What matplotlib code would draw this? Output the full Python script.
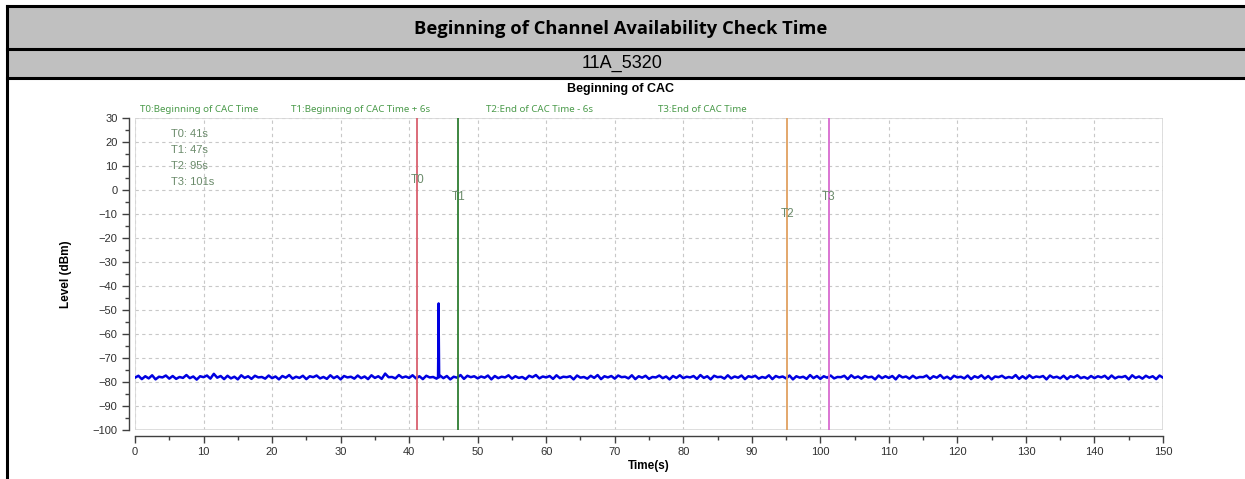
import numpy as np
import matplotlib
matplotlib.use("Agg")
import matplotlib.pyplot as plt
from matplotlib.lines import Line2D
from matplotlib.patches import Rectangle
from matplotlib.ticker import MultipleLocator

# Header texts
TITLE = "Beginning of Channel Availability Check Time"
SUBTITLE = "11A_5320"
PLOT_TITLE = "Beginning of CAC"

# Marker definitions (time in s)
marker_names = ["T0", "T1", "T2", "T3"]
marker_times = [41, 47, 95, 101]
marker_label_y = [4, -3, -10, -3]
marker_colors = ["#d9606e", "#2e7d32", "#e0a060", "#d86ad0"]
marker_desc = ["T0:Beginning of CAC Time", "T1:Beginning of CAC Time + 6s",
               "T2:End of CAC Time - 6s", "T3:End of CAC Time"]
marker_desc_x = [0.7, 22.7, 51.2, 76.3]

# Level trace (dBm), sampled every 0.5 s from 0 to 150 s
t_step = 0.5
level = [
    -78.2, -77.4, -78.8, -77.6, -78.5, -77.2, -78.9, -77.8, -78.1, -77.3, -78.6, -77.5, -78.7, -77.9, -78.3, -77.1, -78.4, -77.7, -79.0, -77.6,
    -78.0, -77.3, -78.6, -76.6, -78.2, -77.5, -78.8, -77.4, -78.5, -77.8, -78.9, -77.2, -78.3, -77.6, -78.7, -77.4, -78.1, -77.9, -78.6, -77.3,
    -78.4, -77.7, -78.9, -77.5, -78.2, -77.1, -78.6, -77.8, -78.3, -77.4, -78.8, -77.6, -78.0, -77.3, -78.5, -77.9, -78.7, -77.2, -78.4, -77.6,
    -78.9, -77.5, -78.1, -77.8, -78.6, -77.3, -78.4, -77.7, -78.8, -77.2, -78.3, -77.6, -78.7, -76.5, -78.0, -77.9, -78.5, -77.1, -78.2, -77.7,
    -78.3, -77.2, -78.5, -77.6, -78.8, -77.4, -78.1, -77.9, -78.6, -77.3, -78.4, -77.5, -78.9, -77.8, -78.2, -77.1, -78.7, -77.4, -78.0, -77.6,
    -78.5, -77.7, -78.2, -77.3, -78.9, -77.5, -78.4, -77.8, -78.1, -77.2, -78.6, -77.6, -78.3, -77.9, -78.8, -77.4, -78.0, -77.1, -78.5, -77.7,
    -78.1, -77.5, -78.7, -77.2, -78.4, -77.8, -78.0, -77.6, -78.9, -77.3, -78.2, -77.9, -78.6, -77.4, -78.3, -77.1, -78.8, -77.6, -78.1, -77.5,
    -78.6, -77.3, -78.0, -77.8, -78.5, -77.2, -78.8, -77.6, -78.2, -77.4, -78.7, -77.9, -78.1, -77.3, -78.4, -77.7, -78.9, -77.5, -78.3, -77.2,
    -78.4, -77.8, -78.1, -77.5, -78.7, -77.1, -78.3, -77.6, -78.9, -77.4, -78.0, -77.8, -78.6, -77.2, -78.5, -77.7, -78.2, -77.3, -78.8, -77.6,
    -78.0, -77.4, -78.6, -77.9, -78.3, -77.2, -78.8, -77.5, -78.1, -77.7, -78.5, -77.3, -78.9, -77.6, -78.2, -77.8, -78.7, -77.1, -78.4, -77.5,
    -78.7, -77.6, -78.2, -77.3, -78.5, -77.9, -78.0, -77.4, -78.8, -77.2, -78.3, -77.7, -78.6, -77.5, -78.1, -77.8, -78.9, -77.3, -78.4, -77.6,
    -78.3, -77.5, -78.9, -77.2, -78.1, -77.7, -78.6, -77.4, -78.4, -77.9, -78.0, -77.3, -78.7, -77.6, -78.2, -77.1, -78.5, -77.8, -78.8, -77.4,
    -78.1, -77.8, -78.5, -77.3, -78.8, -77.6, -78.2, -77.2, -78.6, -77.5, -78.9, -77.7, -78.0, -77.4, -78.4, -77.9, -78.3, -77.1, -78.7, -77.6,
    -78.6, -77.2, -78.3, -77.7, -78.0, -77.5, -78.9, -77.3, -78.2, -77.8, -78.5, -77.4, -78.8, -77.6, -78.1, -77.2, -78.4, -77.9, -78.6, -77.5,
    -78.4, -77.6, -78.1, -77.4, -78.7, -77.3, -78.5, -77.8, -78.0, -77.5, -78.9, -77.2, -78.3, -77.7, -78.6, -77.4, -78.2, -77.6, -78.8, -77.3,
    -78.2,
]

# Short burst seen in the trace
spike_t = [44.2, 44.3, 44.4]
spike_level = [-78.0, -47.2, -78.0]

W, H = 1245, 479
fig = plt.figure(figsize=(W / 100, H / 100), dpi=100)

def fy(py):
    return 1 - py / H

# --- header bands ---
fig.patches.append(Rectangle((7 / W, fy(49)), 1, fy(6) - fy(49), transform=fig.transFigure,
                             facecolor="#c0c0c0", edgecolor="none", zorder=0))
fig.patches.append(Rectangle((7 / W, fy(78)), 1, fy(49) - fy(78), transform=fig.transFigure,
                             facecolor="#c0c0c0", edgecolor="none", zorder=0))
for py in [6, 49, 78]:
    fig.lines.append(Line2D([7 / W, 1], [fy(py), fy(py)], transform=fig.transFigure,
                            color="black", lw=2.2))
fig.lines.append(Line2D([7 / W, 7 / W], [0, fy(6)], transform=fig.transFigure,
                        color="black", lw=2.2))

fig.text(0.4985, fy(29), TITLE, ha="center", va="center", fontsize=13.2,
         fontweight="bold", family=["Open Sans", "DejaVu Sans"])
fig.text(0.5, fy(63), SUBTITLE, ha="center", va="center", fontsize=13,
         family=["Liberation Sans Narrow", "Liberation Sans"])
fig.text(0.4985, fy(89), PLOT_TITLE, ha="center", va="center", fontsize=9,
         fontweight="bold", family=["Liberation Sans"])

# --- plot ---
ax = fig.add_axes([135 / W, fy(430), (1163 - 135) / W, fy(118) - fy(430)])
tick_font = ["Liberation Sans Narrow", "Liberation Sans"]

t = np.arange(len(level)) * t_step
ax.plot(t, level, color="#0000e0", lw=1.8, zorder=3)
ax.plot(spike_t, spike_level, color="#0000e0", lw=1.6, zorder=3)

for name, tm, ly, c in zip(marker_names, marker_times, marker_label_y, marker_colors):
    ax.axvline(tm + 0.2, color=c, lw=1.3, zorder=4)
    ax.text(tm + 0.2, ly, name, ha="center", va="center", fontsize=8.5,
            color="#6a8a6a", family=tick_font, zorder=5)

info_y = [23.5, 16.5, 10, 3.5]
for name, tm, yy in zip(marker_names, marker_times, info_y):
    ax.text(5.2, yy, f"{name}: {tm}s", ha="left", va="center", fontsize=8,
            color="#6a8a6a", family=tick_font)

for desc, dx in zip(marker_desc, marker_desc_x):
    ax.text(dx, 33.5, desc, ha="left", va="center", fontsize=7,
            color="#4a9a4a", family=["Noto Sans", "DejaVu Sans"], clip_on=False)

ax.set_xlim(0, 150)
ax.set_ylim(-100, 30)
ax.xaxis.set_major_locator(MultipleLocator(10))
ax.xaxis.set_minor_locator(MultipleLocator(5))
ax.yaxis.set_major_locator(MultipleLocator(10))
ax.yaxis.set_minor_locator(MultipleLocator(5))
ax.grid(True, which="major", color="#c8c8c8", ls=(0, (3, 3)), lw=0.8)

for s in ["left", "bottom"]:
    ax.spines[s].set_position(("outward", 4))
    ax.spines[s].set_color("#404040")
    ax.spines[s].set_linewidth(1.0)
for s in ["top", "right"]:
    ax.spines[s].set_visible(False)

# light frame around the data area
ax.add_patch(Rectangle((0, 0), 1, 1, transform=ax.transAxes, fill=False,
                       edgecolor="#d8d8d8", lw=1.2, zorder=2))

ax.tick_params(which="major", length=5, width=1, color="#404040", labelsize=8,
               labelcolor="#303030")
ax.tick_params(which="minor", length=3, width=1, color="#404040")
for lab in ax.get_xticklabels() + ax.get_yticklabels():
    lab.set_family(tick_font)

ax.set_xlabel("Time(s)", fontsize=8.5, fontweight="bold", family=["Liberation Sans"], labelpad=2)
ax.set_ylabel("Level (dBm)", fontsize=8.5, fontweight="bold", family=["Liberation Sans"], labelpad=15)

fig.savefig("out.png", dpi=100)
